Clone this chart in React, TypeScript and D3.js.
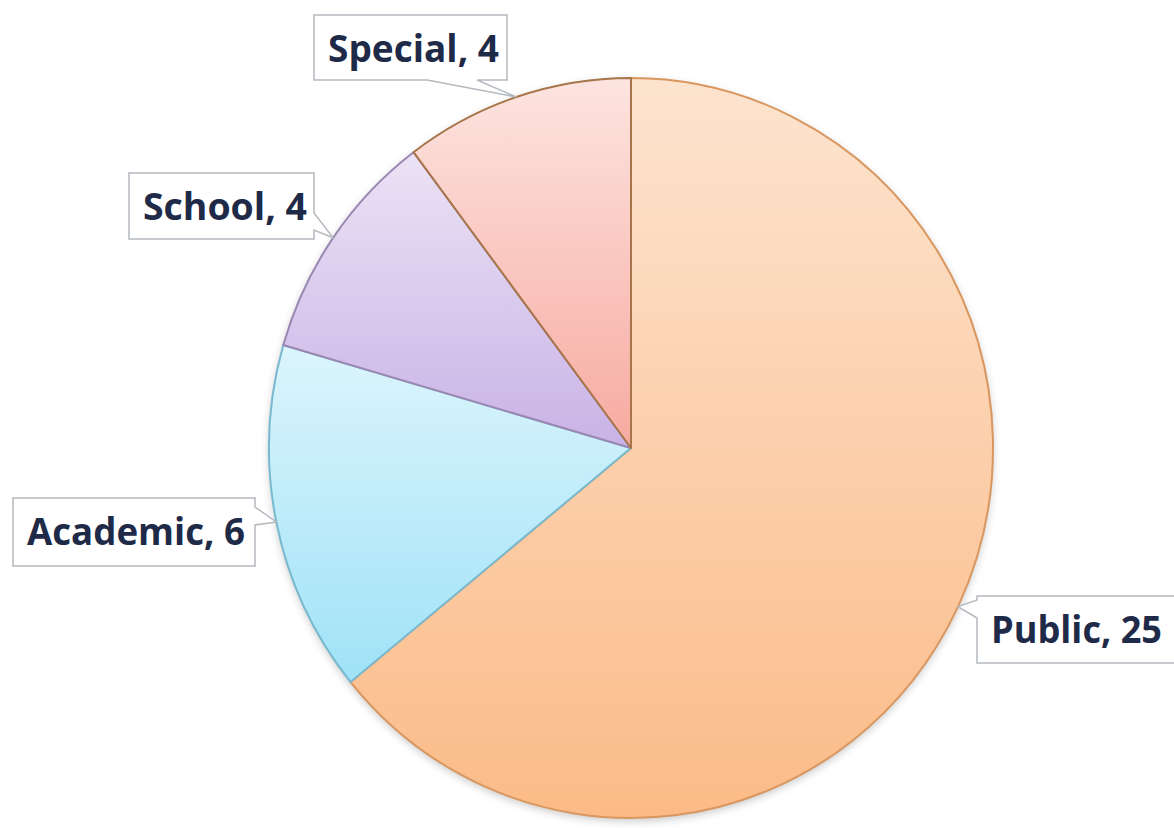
import React from "react";
import * as d3 from "d3";

const categories = ["Public", "Academic", "School", "Special"];
const values = [25, 6, 4, 4];
const gradTop = ["#fde4cf", "#dcf5fc", "#ebe3f5", "#fde4e0"];
const gradBottom = ["#fbbb88", "#9fe2f7", "#c9b2e6", "#f7aaa0"];
const strokes = ["#d9975f", "#78b9cf", "#9a88b3", "#a8744a"];

// label box layout (x, y, w, h), pointer side, wedge base offsets along that side, text width
const labelBoxes = [
  { x: 977, y: 596, w: 205, h: 67, side: "left", b0: 4, b1: 22, tw: 171 },
  { x: 13, y: 498, w: 242, h: 68, side: "right", b0: 9, b1: 27, tw: 218 },
  { x: 129, y: 173, w: 185, h: 66, side: "right", b0: 40, b1: 57, tw: 164 },
  { x: 314, y: 15, w: 193, h: 65, side: "bottom", b0: 113, b1: 163, tw: 171 },
];

const W = 1174;
const H = 828;
const cx = 631;
const cy = 448;
const R = 362;
const sy = 370 / 362;

function calloutPath(b: any, tip: [number, number]) {
  const { x, y, w, h, side, b0, b1 } = b;
  const [tx, ty] = tip;
  const p: string[] = [];
  p.push(`M${x},${y}`);
  p.push(`L${x + w},${y}`);
  if (side === "right") {
    p.push(`L${x + w},${y + b0}`);
    p.push(`L${tx},${ty}`);
    p.push(`L${x + w},${y + b1}`);
  }
  p.push(`L${x + w},${y + h}`);
  if (side === "bottom") {
    p.push(`L${x + b1},${y + h}`);
    p.push(`L${tx},${ty}`);
    p.push(`L${x + b0},${y + h}`);
  }
  p.push(`L${x},${y + h}`);
  if (side === "left") {
    p.push(`L${x},${y + b1}`);
    p.push(`L${tx},${ty}`);
    p.push(`L${x},${y + b0}`);
  }
  p.push("Z");
  return p.join(" ");
}

export default function App() {
  const pie = d3.pie<number>().sort(null).value((d) => d)(values);
  const arc = d3.arc<d3.PieArcDatum<number>>().innerRadius(0).outerRadius(R);

  return (
    <svg
      width={W}
      height={H}
      style={{ position: "absolute", left: 0, top: 0, background: "#fff" }}
    >
      <defs>
        {categories.map((c, i) => (
          <linearGradient key={c} id={`g${i}`} x1="0" y1="0" x2="0" y2="1">
            <stop offset="0%" stopColor={gradTop[i]} />
            <stop offset="100%" stopColor={gradBottom[i]} />
          </linearGradient>
        ))}
        <filter id="shadow" x="-10%" y="-10%" width="120%" height="125%">
          <feDropShadow dx="0" dy="3" stdDeviation="4" floodColor="#000" floodOpacity="0.22" />
        </filter>
      </defs>
      <g transform={`translate(${cx},${cy}) scale(1,${sy})`}>
        <circle r={R} fill="#fff" filter="url(#shadow)" />
        {pie.map((d, i) => (
          <path
            key={categories[i]}
            d={arc(d) || ""}
            fill={`url(#g${i})`}
            stroke={strokes[i]}
            strokeWidth={2}
            vectorEffect="non-scaling-stroke"
            strokeLinejoin="round"
          />
        ))}
      </g>
      {pie.map((d, i) => {
        const mid = (d.startAngle + d.endAngle) / 2;
        const tip: [number, number] = [
          cx + R * Math.sin(mid),
          cy - R * sy * Math.cos(mid),
        ];
        const b = labelBoxes[i];
        return (
          <g key={"lab" + i}>
            <path
              d={calloutPath(b, tip)}
              fill="#fff"
              stroke="#b4b8bf"
              strokeWidth={1.5}
              strokeLinejoin="miter"
            />
            <text
              x={b.x + 14}
              y={b.y + 47}
              fontFamily="'Open Sans', Lato, sans-serif"
              fontWeight={700}
              fontSize={37}
              fill="#1e2a48"
              textLength={b.tw}
              lengthAdjust="spacingAndGlyphs"
            >
              {`${categories[i]}, ${values[i]}`}
            </text>
          </g>
        );
      })}
    </svg>
  );
}
